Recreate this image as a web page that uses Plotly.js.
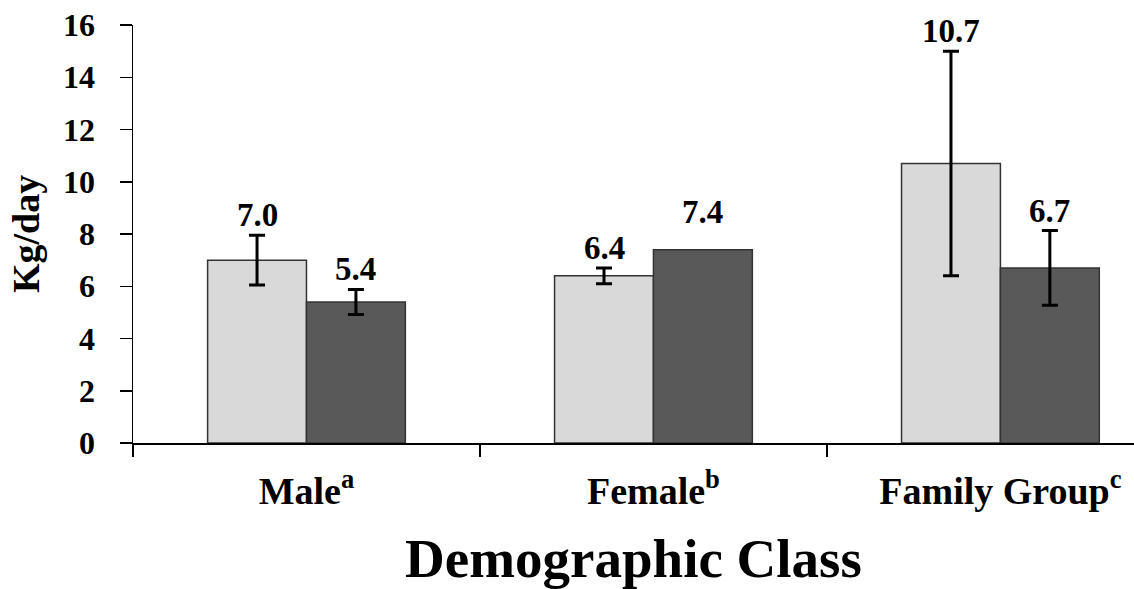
<!DOCTYPE html>
<html>
<head>
<meta charset="utf-8">
<script src="https://cdn.plot.ly/plotly-3.0.1.min.js"></script>
<style>html,body{margin:0;padding:0;background:#fff;}#chart{width:1134px;height:589px;}</style>
</head>
<body>
<div id="chart"></div>
<script>
// Data
const categories = ['Male<sup>a</sup>', 'Female<sup>b</sup>', 'Family Group<sup>c</sup>'];
const seriesLight = [7.0, 6.4, 10.7];
const errLight = [0.95, 0.3, 4.3];
const seriesDark = [5.4, 7.4, 6.7];
const errDark = [0.48, NaN, 1.43];

const font = 'Liberation Serif, Times New Roman, serif';
const bargap = 0.43;
const off = (1 - bargap) / 4;

const traceLight = {
  type: 'bar', x: categories, y: seriesLight,
  marker: {color: '#d9d9d9', line: {color: '#333333', width: 1.5}},
  error_y: {type: 'data', array: errLight, visible: true, color: '#000', thickness: 3, width: 8},
  hoverinfo: 'none', showlegend: false
};
const traceDark = {
  type: 'bar', x: categories, y: seriesDark,
  marker: {color: '#595959', line: {color: '#333333', width: 1.5}},
  error_y: {type: 'data', array: errDark, visible: true, color: '#000', thickness: 3, width: 8},
  hoverinfo: 'none', showlegend: false
};

const annotations = [];
function addLabels(vals, errs, dx) {
  vals.forEach((v, i) => {
    const e = isFinite(errs[i]) ? errs[i] : 0;
    annotations.push({
      x: i + dx, y: v + e, xref: 'x', yref: 'y',
      text: v.toFixed(1), showarrow: false, yanchor: 'bottom',
      yshift: e ? 0 : 18,
      font: {family: font, size: 33, color: '#000', weight: 'bold'}
    });
  });
}
addLabels(seriesLight, errLight, -off);
addLabels(seriesDark, errDark, off);

const layout = {
  width: 1134, height: 589,
  margin: {l: 133, r: 0, t: 25, b: 146},
  paper_bgcolor: '#fff', plot_bgcolor: '#fff',
  barmode: 'group', bargap: bargap, bargroupgap: 0,
  font: {family: font, color: '#000'},
  xaxis: {
    type: 'category', range: [-0.5, 2.385],
    showline: true, linecolor: '#000', linewidth: 1.5,
    ticks: 'outside', ticklen: 12, tickcolor: '#000', tickwidth: 1.5,
    tickson: 'boundaries', showgrid: false, zeroline: false,
    tickfont: {family: font, size: 38, color: '#000', weight: 'bold'},
    ticklabelstandoff: 14,
    title: {text: 'Demographic Class', font: {family: font, size: 55, color: '#000', weight: 'bold'}, standoff: 30}
  },
  yaxis: {
    range: [0, 16], dtick: 2, tick0: 0,
    showline: true, linecolor: '#000', linewidth: 1.5,
    ticks: 'outside', ticklen: 12, tickcolor: '#000', tickwidth: 1.5,
    showgrid: false, zeroline: false,
    tickfont: {family: font, size: 32, color: '#000', weight: 'bold'},
    ticklabelstandoff: 18,
    title: {text: 'Kg/day', font: {family: font, size: 38, color: '#000', weight: 'bold'}, standoff: 12}
  },
  annotations: annotations
};

Plotly.newPlot('chart', [traceLight, traceDark], layout, {displayModeBar: false, staticPlot: true});
</script>
</body>
</html>
